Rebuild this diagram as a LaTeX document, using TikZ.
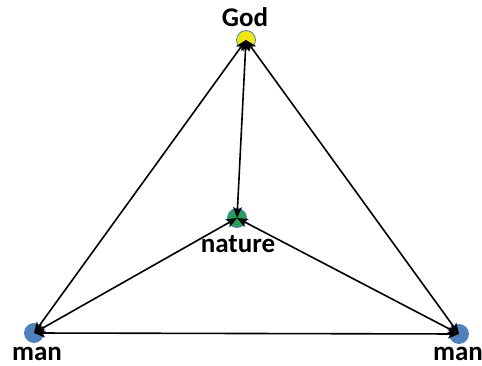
\documentclass[tikz,border=0pt]{standalone}
\usepackage{fontspec}
\setmainfont{Carlito}
\usetikzlibrary{arrows.meta}
\begin{document}
\begin{tikzpicture}[x=1pt,y=-1pt,
  dot/.style={circle,line width=0.8pt,minimum size=19pt,inner sep=0pt},
  lbl/.style={font=\bfseries\fontsize{27}{32}\selectfont,inner sep=0pt,anchor=base},
  link/.style={line width=1.6pt,{Stealth[length=11pt,width=9pt,inset=3pt]}-{Stealth[length=11pt,width=9pt,inset=3pt]}}]
\useasboundingbox (0,0) rectangle (482,366);
\definecolor{dotblue}{RGB}{79,129,189}
\definecolor{dotyellow}{RGB}{240,230,20}
\definecolor{dotgreen}{RGB}{40,160,90}
\node[dot,fill=dotyellow,draw=dotblue] (god) at (246,40) {};
\node[dot,fill=dotgreen,draw=dotblue] (nat) at (237,218) {};
\node[dot,fill=dotblue,draw=dotblue] (ml) at (34,333) {};
\node[dot,fill=dotblue,draw=dotblue] (mr) at (459,334) {};
\node[lbl] (tgod) at (245,27) {God};
\node[lbl] (tnat) at (238,253) {nature};
\node[lbl] (tml) at (37,360) {man};
\node[lbl] (tmr) at (458,360) {man};
\draw[link] (god.center) -- (nat.center);
\draw[link] (god.center) -- (ml.center);
\draw[link] (god.center) -- (mr.center);
\draw[link] (ml.center) -- (mr.center);
\draw[link] (nat.center) -- (ml.center);
\draw[link] (nat.center) -- (mr.center);
\end{tikzpicture}
\end{document}
